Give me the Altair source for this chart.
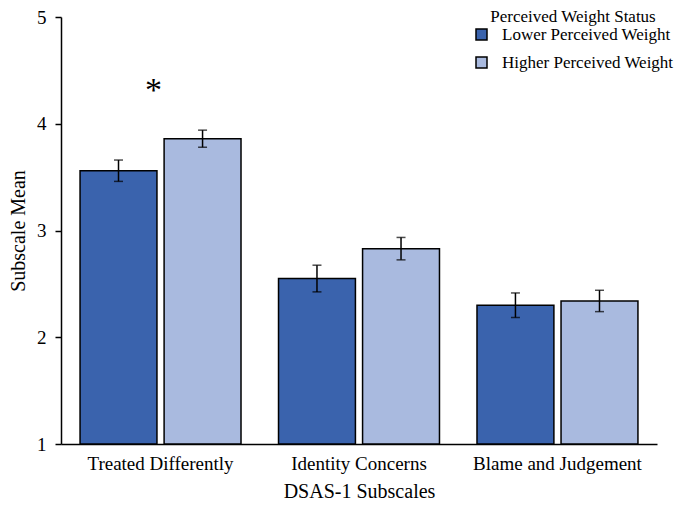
import altair as alt
import pandas as pd

categories = ["Treated Differently", "Identity Concerns", "Blame and Judgement"]
groups = ["Lower Perceived Weight", "Higher Perceived Weight"]
lower_means = [3.56, 2.55, 2.30]
lower_err = [0.10, 0.125, 0.115]
higher_means = [3.86, 2.83, 2.34]
higher_err = [0.08, 0.105, 0.10]
colors = ["#3A63AD", "#A9BADF"]

rows = []
for i, c in enumerate(categories):
    rows.append({"cat": c, "grp": groups[0], "mean": lower_means[i],
                 "lo": lower_means[i] - lower_err[i], "hi": lower_means[i] + lower_err[i]})
    rows.append({"cat": c, "grp": groups[1], "mean": higher_means[i],
                 "lo": higher_means[i] - higher_err[i], "hi": higher_means[i] + higher_err[i]})
df = pd.DataFrame(rows)
star_df = pd.DataFrame({"cat": ["Treated Differently"], "y": [4.31], "label": ["*"]})

FONT = "Liberation Serif"

x = alt.X("cat:N", sort=categories, title="DSAS-1 Subscales",
          scale=alt.Scale(paddingInner=0.189, paddingOuter=0.096),
          axis=alt.Axis(labelAngle=0, ticks=False, labelFontSize=19, titleFontSize=20,
                        labelPadding=10, titlePadding=8, domainColor="black",
                        domainWidth=1.5, labelColor="black", titleColor="black",
                        titleFontWeight="normal", labelLimit=0))
xo = alt.XOffset("grp:N", sort=groups, scale=alt.Scale(paddingInner=0.085, paddingOuter=0))
y = alt.Y("mean:Q", title="Subscale Mean",
          scale=alt.Scale(domain=[1, 5], nice=False, zero=False),
          axis=alt.Axis(values=[1, 2, 3, 4, 5], format="d", grid=False, tickSize=6,
                        tickColor="black", tickWidth=1.5, domainColor="black", domainWidth=1.5,
                        labelFontSize=19, titleFontSize=20, labelPadding=9, titlePadding=8,
                        labelColor="black", titleColor="black", titleFontWeight="normal"))

bars = alt.Chart(df).mark_bar(stroke="black", strokeWidth=1.5).encode(
    x=x, xOffset=xo, y=y, y2=alt.datum(1),
    color=alt.Color("grp:N", sort=groups, scale=alt.Scale(domain=groups, range=colors),
                    legend=alt.Legend(title="Perceived Weight Status", orient="none",
                                      legendX=412, legendY=-8, symbolType="square",
                                      symbolSize=121, symbolStrokeColor="black",
                                      symbolStrokeWidth=1.5, labelFontSize=17,
                                      titleFontSize=17, titleFontWeight="normal",
                                      titleAnchor="middle", rowPadding=10, titlePadding=0,
                                      labelOffset=12, padding=0, labelColor="black",
                                      titleColor="black", labelLimit=0))
)

rule = alt.Chart(df).mark_rule(color="black", strokeWidth=1.5).encode(
    x=x, xOffset=xo, y=alt.Y("lo:Q"), y2="hi:Q")
cap_lo = alt.Chart(df).mark_tick(color="black", thickness=1.5, size=9).encode(
    x=x, xOffset=xo, y=alt.Y("lo:Q"))
cap_hi = alt.Chart(df).mark_tick(color="black", thickness=1.5, size=9).encode(
    x=x, xOffset=xo, y=alt.Y("hi:Q"))
star = alt.Chart(star_df).mark_text(fontSize=34, font=FONT, color="black", dx=-7,
                                    baseline="middle").encode(
    x=alt.X("cat:N", sort=categories), y=alt.Y("y:Q"), text="label:N")

chart = alt.layer(bars, rule, cap_lo, cap_hi, star).properties(
    width=596, height=427,
    autosize=alt.AutoSizeParams(type="none"),
    padding={"left": 53, "top": 9, "right": 20, "bottom": 57},
).configure(font=FONT).configure_view(stroke=None)

chart.save("out.html", embed_options={"renderer": "svg", "actions": False})
